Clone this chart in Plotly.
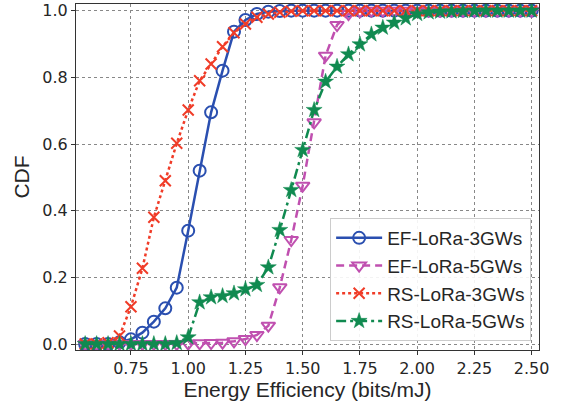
import plotly.graph_objects as go

x_vals = [0.55, 0.60, 0.65, 0.70, 0.75, 0.80, 0.85, 0.90, 0.95, 1.00,
          1.05, 1.10, 1.15, 1.20, 1.25, 1.30, 1.35, 1.40, 1.45, 1.50,
          1.55, 1.60, 1.65, 1.70, 1.75, 1.80, 1.85, 1.90, 1.95, 2.00,
          2.05, 2.10, 2.15, 2.20, 2.25, 2.30, 2.35, 2.40, 2.45, 2.50]

ef_3gw = [0.0, 0.0, 0.0, 0.005, 0.014, 0.034, 0.067, 0.107, 0.169, 0.34,
          0.52, 0.695, 0.82, 0.937, 0.972, 0.99, 0.997, 0.999, 1.0, 1.0,
          1.0, 1.0, 1.0, 1.0, 1.0, 1.0, 1.0, 1.0, 1.0, 1.0,
          1.0, 1.0, 1.0, 1.0, 1.0, 1.0, 1.0, 1.0, 1.0, 1.0]

ef_5gw = [0.0, 0.0, 0.0, 0.0, 0.0, 0.0, 0.0, 0.0, 0.0, 0.001,
          0.002, 0.003, 0.004, 0.008, 0.015, 0.027, 0.055, 0.17, 0.312, 0.475,
          0.665, 0.865, 0.957, 0.99, 0.998, 1.0, 1.0, 1.0, 1.0, 1.0,
          1.0, 1.0, 1.0, 1.0, 1.0, 1.0, 1.0, 1.0, 1.0, 1.0]

rs_3gw = [0.0, 0.0, 0.004, 0.024, 0.112, 0.227, 0.38, 0.49, 0.602, 0.702,
          0.79, 0.84, 0.892, 0.934, 0.96, 0.98, 0.99, 0.995, 0.998, 1.0,
          1.0, 1.0, 1.0, 1.0, 1.0, 1.0, 1.0, 1.0, 1.0, 1.0,
          1.0, 1.0, 1.0, 1.0, 1.0, 1.0, 1.0, 1.0, 1.0, 1.0]

rs_5gw = [0.0, 0.0, 0.0, 0.0, 0.0, 0.0, 0.0, 0.0, 0.003, 0.02,
          0.125, 0.14, 0.144, 0.152, 0.164, 0.177, 0.23, 0.342, 0.462, 0.582,
          0.702, 0.787, 0.832, 0.869, 0.899, 0.929, 0.949, 0.964, 0.977, 0.99,
          0.995, 0.997, 0.998, 0.999, 1.0, 1.0, 1.0, 1.0, 1.0, 1.0]

names = ["EF-LoRa-3GWs", "EF-LoRa-5GWs", "RS-LoRa-3GWs", "RS-LoRa-5GWs"]
x_ticks = [0.75, 1.00, 1.25, 1.50, 1.75, 2.00, 2.25, 2.50]
y_ticks = [0.0, 0.2, 0.4, 0.6, 0.8, 1.0]

fig = go.Figure()
fig.add_trace(go.Scatter(
    x=x_vals, y=ef_3gw, name=names[0], mode="lines+markers",
    line=dict(color="#2a4fb0", width=2.5, dash="solid"),
    marker=dict(symbol="circle-open", size=12, color="#2a4fb0", line=dict(width=2))))
fig.add_trace(go.Scatter(
    x=x_vals, y=ef_5gw, name=names[1], mode="lines+markers",
    line=dict(color="#c050b0", width=2.5, dash="8px,5px"),
    marker=dict(symbol="triangle-down-open", size=12, color="#c050b0", line=dict(width=2))))
fig.add_trace(go.Scatter(
    x=x_vals, y=rs_3gw, name=names[2], mode="lines+markers",
    line=dict(color="#f03c28", width=2.5, dash="dot"),
    marker=dict(symbol="x-thin-open", size=11, color="#f03c28", line=dict(width=2, color="#f03c28"))))
fig.add_trace(go.Scatter(
    x=x_vals, y=rs_5gw, name=names[3], mode="lines+markers",
    line=dict(color="#108a50", width=2.5, dash="10px,4px,3px,4px"),
    marker=dict(symbol="star", size=12, color="#108a50", line=dict(width=0.5, color="#108a50"))))

axis_common = dict(
    showline=True, linecolor="#333333", linewidth=1.2, mirror=True,
    ticks="outside", ticklen=4, tickcolor="#333333",
    showgrid=True, gridcolor="#888888", griddash="dot", gridwidth=1,
    zeroline=False, automargin=False,
    tickfont=dict(family="DejaVu Sans", size=16, color="#262626"),
)

fig.update_xaxes(range=[0.51, 2.532], tickvals=x_ticks, tickformat=".2f",
                 title=dict(text="Energy Efficiency (bits/mJ)",
                            font=dict(family="Liberation Sans", size=21, color="#262626"),
                            standoff=0),
                 **axis_common)
fig.update_yaxes(range=[-0.018, 1.02], tickvals=y_ticks, tickformat=".1f",
                 title=dict(text="CDF",
                            font=dict(family="Liberation Sans", size=21, color="#262626"),
                            standoff=6),
                 **axis_common)

fig.update_layout(
    width=561, height=407,
    margin=dict(l=76, r=22, t=4, b=57),
    plot_bgcolor="white", paper_bgcolor="white",
    showlegend=True,
    legend=dict(x=0.983, y=0.026, xanchor="right", yanchor="bottom",
                bgcolor="rgba(255,255,255,0.9)", bordercolor="#cccccc", borderwidth=1,
                font=dict(family="Liberation Sans", size=19, color="#262626"),
                itemwidth=46, tracegroupgap=0),
)

fig.write_html("out.html", config={"displayModeBar": False},
               post_script="document.body.style.margin='0';")
